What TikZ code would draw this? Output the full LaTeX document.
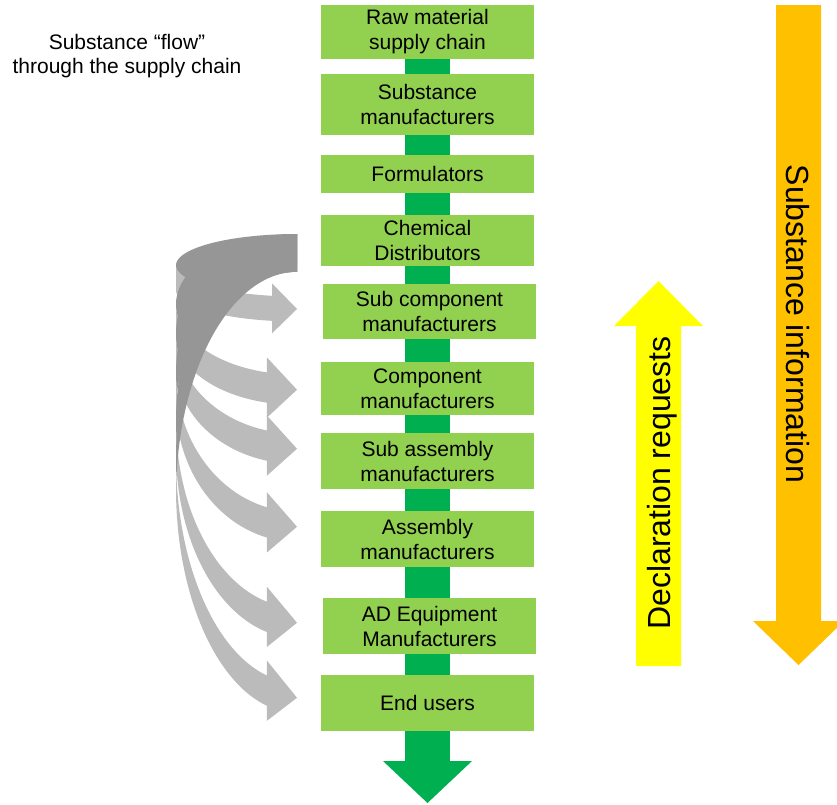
\documentclass[tikz,border=0pt]{standalone}
\usepackage{fontspec}
\setmainfont{Liberation Sans}
\usetikzlibrary{backgrounds,calc}
\definecolor{boxgreen}{HTML}{92D050}
\definecolor{bargreen}{HTML}{00B050}
\definecolor{arrlight}{RGB}{187,187,187}
\definecolor{arrdark}{RGB}{150,150,150}
\definecolor{declyellow}{HTML}{FFFF00}
\definecolor{infoorange}{HTML}{FFC000}
\tikzset{
  stagebox/.style={fill=boxgreen, minimum width=213pt, inner sep=0pt, align=center,
    font=\fontsize{21}{25}\selectfont, text=black},
  lightarr/.style={fill=arrlight},
  darkarr/.style={fill=arrdark},
  biglabel/.style={font=\fontsize{32}{38}\selectfont, text=black, inner sep=0pt}
}
% curved right arrow (PowerPoint-like): #1 = top y, #2 = height
\newcommand\curvarr[2]{%
  \pgfmathsetmacro\cT{#1}%
  \pgfmathsetmacro\cH{#2}%
  \pgfmathsetmacro\cW{121}%
  \pgfmathsetmacro\cR{297}%
  \pgfmathsetmacro\cSS{min(\cW,\cH)}%
  \pgfmathsetmacro\cTh{0.25*\cSS}%
  \pgfmathsetmacro\cThd{1.25*\cTh}%
  \pgfmathsetmacro\cAw{0.5*\cSS}%
  \pgfmathsetmacro\cAh{0.25*\cSS}%
  \pgfmathsetmacro\cHR{\cH/2-(\cTh+\cAw)/4}%
  \pgfmathsetmacro\cDy{\cHR*sqrt(1-(\cAh/\cW)^2)}%
  \pgfmathsetmacro\cYc{\cT+\cHR}%
  \pgfmathsetmacro\cYd{\cYc+\cTh}%
  \pgfmathsetmacro\cYe{\cYc+\cThd}%
  \pgfmathsetmacro\cYfive{\cYc+\cDy}%
  \pgfmathsetmacro\cYseven{\cYfive+\cTh}%
  \pgfmathsetmacro\cDh{(\cAw-\cTh)/2}%
  \pgfmathsetmacro\cYfour{\cYfive-\cDh}%
  \pgfmathsetmacro\cYeight{\cYseven+\cDh}%
  \pgfmathsetmacro\cYsix{\cT+\cH-\cAw/2}%
  \pgfmathsetmacro\cXone{\cR-\cAh}%
  \pgfmathsetmacro\cPe{acos(-\cAh/\cW)}%
  \pgfmathsetmacro\cA{asin(\cThd/(2*\cHR))}%
  \pgfmathsetmacro\cPa{180+\cA}%
  \pgfmathsetmacro\cPb{180-\cA}%
  \fill[lightarr] plot[domain=180:\cPe, samples=40] ({\cR+\cW*cos(\x)},{\cYc+\cHR*sin(\x)})
     -- (\cXone,\cYfour) -- (\cR,\cYsix) -- (\cXone,\cYeight) -- (\cXone,\cYseven)
     -- plot[domain=\cPe:180, samples=40] ({\cR+\cW*cos(\x)},{\cYd+\cHR*sin(\x)}) -- cycle;
  \fill[darkarr] plot[domain=270:\cPa, samples=50] ({\cR+\cW*cos(\x)},{\cYe+\cHR*sin(\x)})
     -- plot[domain=\cPb:270, samples=50] ({\cR+\cW*cos(\x)},{\cYc+\cHR*sin(\x)}) -- cycle;
}
\begin{document}
\begin{tikzpicture}[x=1pt,y=-1pt]
\useasboundingbox (0,0) rectangle (837,804);
\clip (0,0) rectangle (837,804);

% title text
\node[align=center, font=\fontsize{21}{24}\selectfont, inner sep=0pt] (flowlab) at (127,56)
  {Substance “flow”\\through the supply chain};

% supply chain stages
\node[stagebox, minimum height=54pt] (b1) at (427.5,32) {Raw material\\supply chain};
\node[stagebox, minimum height=61pt] (b2) at (427.5,104.5) {Substance\\manufacturers};
\node[stagebox, minimum height=38pt] (b3) at (427.5,174) {Formulators};
\node[stagebox, minimum height=51pt] (b4) at (427.5,240.5) {Chemical\\Distributors};
\node[stagebox, minimum height=55pt] (b5) at (429.5,311.5) {Sub component\\manufacturers};
\node[stagebox, minimum height=53pt] (b6) at (427.5,388.5) {Component\\manufacturers};
\node[stagebox, minimum height=56pt] (b7) at (427.5,461) {Sub assembly\\manufacturers};
\node[stagebox, minimum height=56pt] (b8) at (427.5,539) {Assembly\\manufacturers};
\node[stagebox, minimum height=56pt] (b9) at (429.5,626) {AD Equipment\\Manufacturers};
\node[stagebox, minimum height=56pt] (b10) at (427.5,703) {End users};

% green flow bar behind the stages
\coordinate (gbase) at (427.5,761);
\coordinate (gtip) at (427.5,803);
\begin{scope}[on background layer]
  \fill[white] (0,0) rectangle (837,804);
  \draw[bargreen, line width=45pt] (b1.center) -- (gbase);
  \fill[bargreen] (gbase) ++(-44.5,0) -- ++(89,0) -- (gtip) -- cycle;
\end{scope}

% curved grey arrows (substance flow)
\curvarr{234}{100}
\curvarr{234}{186}
\curvarr{234}{245}
\curvarr{234}{323}
\curvarr{234}{419}
\curvarr{234}{494}

% declaration requests (yellow, upward)
\fill[declyellow] (636,666) -- (636,326) -- (614,326) -- (658.5,281) -- (703,326)
  -- (681,326) -- (681,666) -- cycle;
\node[biglabel, rotate=90, anchor=base] (declab) at (670.5,483) {Declaration requests};

% substance information (orange, downward)
\fill[infoorange] (776,5) -- (821,5) -- (821,621) -- (844,621) -- (798.5,665)
  -- (753,621) -- (776,621) -- cycle;
\node[biglabel, rotate=-90, anchor=base] (infolab) at (786.5,324) {Substance information};
\end{tikzpicture}
\end{document}
